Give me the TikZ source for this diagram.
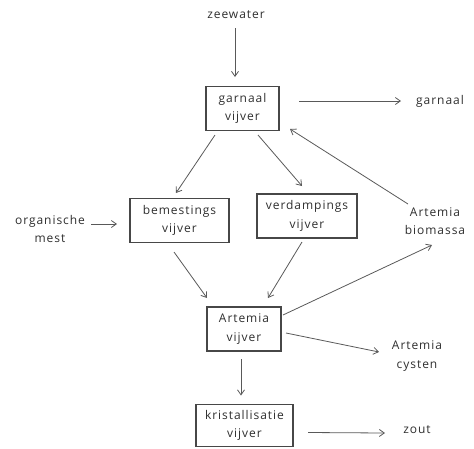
\documentclass[tikz,border=0pt]{standalone}
\usepackage{fontspec}
\setmainfont[LetterSpace=8]{Open Sans}
\usetikzlibrary{calc,arrows.meta}
\begin{document}
\begin{tikzpicture}[x=1pt,y=-1pt,
  every node/.style={font=\fontsize{12}{18.5}\selectfont, text=black!82, align=center, inner sep=0pt},
  pond/.style={draw=black!72, line width=1.1pt, minimum height=44pt},
  arr/.style={draw=black!65, line width=0.8pt, -{Straight Barb[length=5pt,width=7pt]}}]
\useasboundingbox (0,0) rectangle (474,448);
% texts
\node (zee) at (236,15) {zeewater};
\node (garnL) at (440,101) {garnaal};
\node (mest) at (50,229) {organische\\mest};
\node (bio) at (435,221) {Artemia\\biomassa};
\node (cyst) at (417,356) {Artemia\\cysten};
\node (zout) at (417,430) {zout};
% ponds
\node[pond, minimum width=73pt] (gv) at (242.5,108.5) {garnaal\\vijver};
\node[pond, minimum width=99pt] (bem) at (179.5,220.5) {bemestings\\vijver};
\node[pond, minimum width=100pt] (verd) at (307,216) {verdampings\\vijver};
\node[pond, minimum width=74pt] (av) at (244,329) {Artemia\\vijver};
\node[pond, minimum width=97pt, minimum height=42pt] (kv) at (244.5,425.5) {kristallisatie\\vijver};
% arrows
\draw[arr] ($(zee)+(-1,13)$) -- ($(gv)+(-7.5,-31.5)$);
\draw[arr] ($(gv)+(56.5,-7.5)$) -- ($(garnL)+(-39,0)$);
\draw[arr] ($(bio)+(-27,-17)$) -- ($(gv)+(47.5,20.5)$);
\draw[arr] ($(gv)+(-27.5,26.5)$) -- ($(bem)+(-3.5,-27.5)$);
\draw[arr] ($(gv)+(15.5,26.5)$) -- ($(verd)+(-5,-30)$);
\draw[arr] ($(mest)+(41,-5)$) -- ($(bem)+(-62.5,3.5)$);
\draw[arr] ($(bem)+(-5.5,31.5)$) -- ($(av)+(-37,-31)$);
\draw[arr] ($(verd)+(-5,26)$) -- ($(av)+(24,-31)$);
\draw[arr] ($(av)+(39,-14)$) -- ($(bio)+(-3,24)$);
\draw[arr] ($(av)+(42,4)$) -- ($(cyst)+(-38,-4)$);
\draw[arr] ($(av)+(-3,30)$) -- ($(kv)+(-3.5,-30)$);
\draw[arr] ($(kv)+(63.5,7)$) -- ($(zout)+(-32,3)$);
\end{tikzpicture}
\end{document}
